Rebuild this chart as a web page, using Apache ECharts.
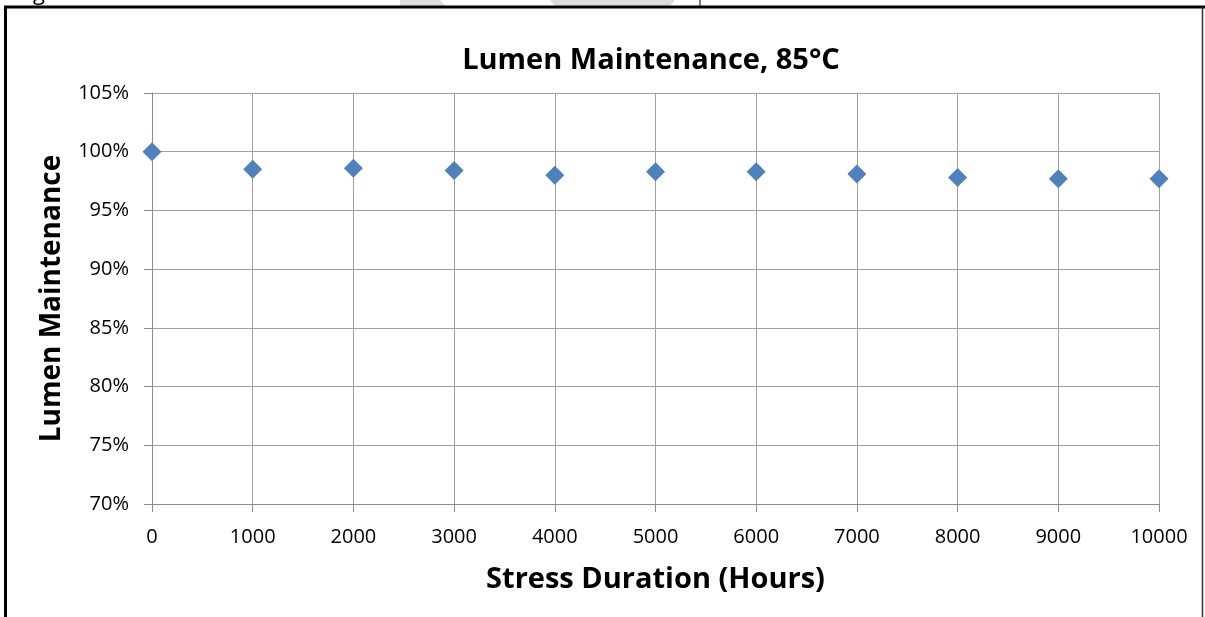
<!DOCTYPE html>
<html><head><meta charset="utf-8">
<script src="https://cdn.jsdelivr.net/npm/echarts@6/dist/echarts.min.js"></script>
<style>html,body{margin:0;padding:0;background:#fff}#c{width:1205px;height:617px}</style>
</head><body><div id="c"></div>
<script>
const hours = [0, 1000, 2000, 3000, 4000, 5000, 6000, 7000, 8000, 9000, 10000];
const lumen = [100, 98.5, 98.6, 98.4, 98.0, 98.3, 98.3, 98.1, 97.8, 97.7, 97.7];
const title = 'Lumen Maintenance, 85°C';
const xName = 'Stress Duration (Hours)';
const yName = 'Lumen Maintenance';

const chart = echarts.init(document.getElementById('c'), null, {renderer: 'canvas'});
const font = '"Open Sans", "Noto Sans", sans-serif';
chart.setOption({
  animation: false,
  title: {text: title, left: 646, textAlign: 'center', top: 41,
    textStyle: {fontFamily: font, fontWeight: 'bold', fontSize: 29, color: '#000'}},
  grid: {left: 152, right: 46, top: 93, bottom: 113},
  xAxis: {type: 'value', min: 0, max: 10000, interval: 1000,
    name: xName, nameLocation: 'middle', nameGap: 61,
    nameTextStyle: {fontFamily: font, fontWeight: 'bold', fontSize: 29, color: '#000'},
    axisLine: {show: true, lineStyle: {color: '#8c8c8c', width: 1}},
    axisTick: {show: true, length: 8, lineStyle: {color: '#8c8c8c'}},
    axisLabel: {fontFamily: font, fontSize: 20, color: '#000', margin: 23,
      formatter: v => String(v)},
    splitLine: {show: true, lineStyle: {color: '#a0a0a0', width: 1}}},
  yAxis: {type: 'value', min: 70, max: 105, interval: 5,
    name: yName, nameLocation: 'middle', nameGap: 86, nameRotate: 90,
    nameTextStyle: {fontFamily: font, fontWeight: 'bold', fontSize: 28, color: '#000'},
    axisLine: {show: true, lineStyle: {color: '#8c8c8c', width: 1}},
    axisTick: {show: true, length: 8, lineStyle: {color: '#8c8c8c'}},
    axisLabel: {fontFamily: font, fontSize: 20, color: '#000', margin: 23, formatter: '{value}%'},
    splitLine: {show: true, lineStyle: {color: '#a0a0a0', width: 1}}},
  series: [{type: 'scatter', data: hours.map((h, i) => [h, lumen[i]]),
    symbol: 'diamond', symbolSize: [19, 19],
    itemStyle: {color: '#4F81BD', opacity: 1}}],
  graphic: [
    {type: 'polygon', shape: {points: [[400,0],[440,0],[445,6],[400,6]]}, style: {fill: '#dcdcdc'}},
    {type: 'polygon', shape: {points: [[550,0],[675,0],[670,6],[555,6]]}, style: {fill: '#dcdcdc'}},
    {type: 'text', x: 33, y: -17, style: {text: 'g', fontFamily: font, fontSize: 22, fill: '#000'}},
    {type: 'line', shape: {x1: 4, y1: 7, x2: 1205, y2: 7}, style: {stroke: '#000', lineWidth: 3}},
    {type: 'line', shape: {x1: 5.5, y1: 6, x2: 5.5, y2: 617}, style: {stroke: '#000', lineWidth: 3}},
    {type: 'line', shape: {x1: 1202.5, y1: 7, x2: 1202.5, y2: 617}, style: {stroke: '#333', lineWidth: 1.5}},
    {type: 'line', shape: {x1: 700, y1: 0, x2: 700, y2: 6}, style: {stroke: '#000', lineWidth: 1}}
  ]
});
</script></body></html>
